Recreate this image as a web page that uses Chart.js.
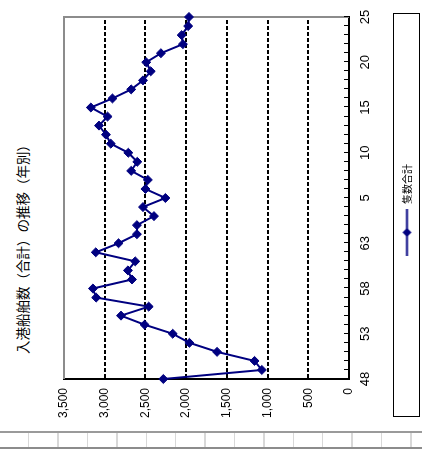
<!DOCTYPE html>
<html lang="ja">
<head>
<meta charset="utf-8">
<title>入港船舶数(合計)の推移(年別)</title>
<script src="https://cdn.jsdelivr.net/npm/chart.js@4.4.1/dist/chart.umd.min.js"></script>
<style>
  html, body { margin: 0; padding: 0; background: #fff; }
  body { width: 422px; height: 450px; position: relative; overflow: hidden; }
  /* la gráfica se dibuja "acostada" y se gira 90° a la izquierda */
  #wrap {
    position: absolute; left: 0; top: 0; width: 420px; height: 422px;
    transform-origin: 0 0; transform: translate(0, 420px) rotate(-90deg);
  }
  #chart { position: absolute; left: 0; top: 0; }
  #title {
    position: absolute; left: 0; top: 12px; width: 348px; text-align: center;
    font: 13.5px "Noto Sans CJK JP", sans-serif; color: #000; white-space: nowrap;
  }
  #legendBox {
    position: absolute; left: 3px; top: 393px; width: 402px; height: 25px;
    border: 1px solid #000;
  }
  #sheet {
    position: absolute; left: 0; top: 431px; width: 422px; height: 14px;
    border-top: 2px solid #9a9a9a; border-bottom: 2px solid #8c8c8c;
    background: repeating-linear-gradient(90deg, transparent 0 28px, #d8d8d8 28px 29.4px);
  }
</style>
</head>
<body>
<div id="wrap">
  <div id="title">入港船舶数（合計）の推移（年別）</div>
  <div id="legendBox"></div>
  <canvas id="chart" width="420" height="422"></canvas>
</div>
<div id="sheet"></div>

<script>
// Años: Showa 48-63, Heisei 1-25
const years = ['48', '49', '50', '51', '52', '53', '54', '55', '56', '57', '58', '59', '60', '61', '62', '63',
  '1', '2', '3', '4', '5', '6', '7', '8', '9', '10', '11', '12', '13', '14', '15', '16', '17', '18', '19', '20',
  '21', '22', '23', '24', '25'];

// 隻数合計
const shipTotals = [2280, 1070, 1160, 1620, 1960, 2165, 2510, 2800, 2460, 3105, 3145, 2665, 2715, 2625, 3110, 2830,
  2605, 2605, 2395, 2530, 2255, 2500, 2470, 2675, 2600, 2710, 2925, 2985, 3070, 2965, 3170, 2905, 2675, 2530, 2435, 2490,
  2310, 2040, 2055, 1975, 1965];

// Etiquetas visibles en el eje de años
const shownYears = ['48', '53', '58', '63', '5', '10', '15', '20', '25'];

const valueTicks = [0, 500, 1000, 1500, 2000, 2500, 3000, 3500];

const colors = {
  line: '#000080',
  axis: '#000000',
  frame: '#8c8c8c',
  text: '#000000'
};

// Icono de la leyenda: línea con rombo
function legendMarker() {
  const c = document.createElement('canvas');
  c.width = 47;
  c.height = 11;
  const g = c.getContext('2d');
  g.strokeStyle = colors.line;
  g.lineWidth = 2;
  g.beginPath();
  g.moveTo(0, 5.5);
  g.lineTo(47, 5.5);
  g.stroke();
  g.fillStyle = colors.line;
  g.beginPath();
  g.moveTo(23.5, 1);
  g.lineTo(28, 5.5);
  g.lineTo(23.5, 10);
  g.lineTo(19, 5.5);
  g.closePath();
  g.fill();
  return c;
}

// Marco gris y marcas interiores del eje de años
const plotFrame = {
  id: 'plotFrame',
  beforeDatasetsDraw(chart) {
    const {ctx, chartArea: a, scales} = chart;
    ctx.save();
    ctx.strokeStyle = colors.frame;
    ctx.lineWidth = 2;
    ctx.beginPath();
    ctx.moveTo(a.left, a.top);
    ctx.lineTo(a.right, a.top);
    ctx.lineTo(a.right, a.bottom);
    ctx.stroke();

    ctx.strokeStyle = colors.axis;
    ctx.lineWidth = 1;
    ctx.beginPath();
    scales.x.ticks.forEach((t, i) => {
      const x = Math.round(scales.x.getPixelForTick(i)) + 0.5;
      ctx.moveTo(x, a.bottom);
      ctx.lineTo(x, a.bottom - 5);
    });
    ctx.stroke();
    ctx.restore();
  }
};

new Chart(document.getElementById('chart'), {
  type: 'line',
  data: {
    labels: years,
    datasets: [{
      label: '隻数合計',
      data: shipTotals,
      borderColor: colors.line,
      backgroundColor: colors.line,
      borderWidth: 2,
      tension: 0,
      pointStyle: 'rectRot',
      pointRadius: 4.5,
      pointBackgroundColor: colors.line,
      pointBorderColor: colors.line,
      pointBorderWidth: 1,
      clip: false
    }]
  },
  options: {
    responsive: false,
    animation: false,
    layout: {
      padding: { top: 64, right: 0, left: 0, bottom: 0 }
    },
    plugins: {
      title: { display: false },
      tooltip: { enabled: false },
      legend: {
        display: true,
        position: 'bottom',
        labels: {
          usePointStyle: true,
          pointStyle: legendMarker(),
          pointStyleWidth: 47,
          padding: 10,
          color: colors.text,
          font: { family: '"Noto Sans CJK JP", sans-serif', size: 10 }
        }
      }
    },
    scales: {
      x: {
        type: 'category',
        offset: false,
        grid: { display: true, drawOnChartArea: false, drawTicks: false },
        border: { display: true, color: colors.axis, width: 2 },
        ticks: {
          autoSkip: false,
          maxRotation: 0,
          minRotation: 0,
          padding: 9,
          color: colors.text,
          font: { family: '"Liberation Sans", Arial, sans-serif', size: 13 },
          callback: function(value, index) {
            const label = years[index];
            return index % 5 === 0 && shownYears.includes(label) ? label : '';
          }
        },
        afterFit: function(scale) { scale.height = 43; }
      },
      y: {
        min: 0,
        max: 3500,
        afterBuildTicks: function(scale) {
          scale.ticks = valueTicks.map(v => ({ value: v }));
        },
        grid: {
          drawTicks: false,
          lineWidth: 2,
          color: function(ctx) {
            const v = ctx.tick && ctx.tick.value;
            return v === 0 || v === 3500 ? 'rgba(0,0,0,0)' : colors.axis;
          }
        },
        border: { display: true, color: colors.axis, width: 2, dash: [4, 2] },
        ticks: {
          padding: 9,
          color: colors.text,
          font: { family: '"Liberation Sans Narrow", "Liberation Sans", Arial, sans-serif', size: 12 },
          callback: function(value) {
            return value.toLocaleString('en-US');
          }
        },
        afterFit: function(scale) { scale.width = 41; }
      },
      // eje vacío a la derecha: sólo reserva el margen, así la leyenda queda centrada en todo el ancho
      yPad: {
        position: 'right',
        min: 0,
        max: 1,
        grid: { display: false },
        border: { display: false },
        ticks: { display: false },
        afterFit: function(scale) { scale.width = 17; }
      }
    }
  },
  plugins: [plotFrame]
});
</script>
</body>
</html>
